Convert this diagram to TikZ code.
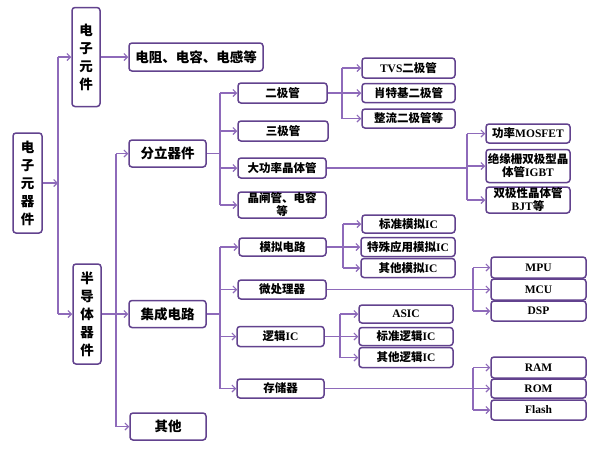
\documentclass[tikz,border=0pt]{standalone}
\usepackage{fontspec}
\setmainfont{Liberation Serif}
\newfontfamily\cjk{Noto Sans CJK SC}
\usetikzlibrary{arrows.meta}
\definecolor{boxc}{RGB}{98,66,142}
\definecolor{linec}{RGB}{142,106,186}
\newcommand\en[1]{{\rmfamily #1}}
\tikzset{
 bx/.style={draw=boxc, line width=1.5pt, rounded corners=3pt, fill=white, inner sep=0pt, align=center, text=black,
   font=\cjk\bfseries\fontsize{11.5}{13}\selectfont},
 big/.style={font=\cjk\bfseries\fontsize{13.5}{18}\selectfont},
 conn/.style={draw=linec, line width=1.1pt},
 arr/.style={draw=linec, line width=1.1pt, -{Straight Barb[length=3.5pt,width=7pt]}},
}
\begin{document}
\begin{tikzpicture}[x=1pt,y=-1pt]
\useasboundingbox[fill=white] (0,0) rectangle (600,448);
% level 0-1
\node[bx,big,minimum width=29pt,minimum height=100pt] (root) at (27.5,183) {电\\子\\元\\器\\件};
\node[bx,big,minimum width=28pt,minimum height=99pt] (ec) at (86,57) {电\\子\\元\\件};
\node[bx,big,minimum width=28pt,minimum height=100pt] (sd) at (87,314) {半\\导\\体\\器\\件};
\node[bx,big,minimum width=134pt,minimum height=28pt] (rlc) at (196,57) {电阻、电容、电感等};
\node[bx,big,minimum width=77pt,minimum height=27pt] (dd) at (167.5,153.5) {分立器件};
\node[bx,big,minimum width=77pt,minimum height=27pt] (ic) at (167.5,314) {集成电路};
\node[bx,big,minimum width=76pt,minimum height=27pt] (qt) at (168,426.5) {其他};
% discrete
\node[bx,minimum width=89pt,minimum height=20pt] (ejg) at (282.5,93) {二极管};
\node[bx,minimum width=90pt,minimum height=20pt] (sjg) at (283,131) {三极管};
\node[bx,minimum width=88pt,minimum height=20pt] (dgl) at (282,168) {大功率晶体管};
\node[bx,minimum width=88pt,minimum height=26pt] (jzg) at (282,205) {晶闸管、电容\\等};
\node[bx,minimum width=93pt,minimum height=20pt] (tvs) at (408.5,68) {\en{TVS}二极管};
\node[bx,minimum width=93pt,minimum height=19pt] (xtj) at (408.5,93) {肖特基二极管};
\node[bx,minimum width=93pt,minimum height=19pt] (zl) at (408.5,118.5) {整流二极管等};
\node[bx,minimum width=84pt,minimum height=19pt] (mos) at (528,133.5) {功率\en{MOSFET}};
\node[bx,minimum width=84pt,minimum height=33pt] (igbt) at (528,166) {绝缘栅双极型晶\\体管\en{IGBT}};
\node[bx,minimum width=84pt,minimum height=26pt] (bjt) at (528,200) {双极性晶体管\\\en{BJT}等};
% IC
\node[bx,minimum width=87pt,minimum height=18pt] (mn) at (282.5,247) {模拟电路};
\node[bx,minimum width=88pt,minimum height=19pt] (wcl) at (282,289.5) {微处理器};
\node[bx,minimum width=87pt,minimum height=20pt] (lj) at (280.5,336.5) {逻辑\en{IC}};
\node[bx,minimum width=87pt,minimum height=19pt] (cc) at (280.5,388.5) {存储器};
\node[bx,minimum width=93pt,minimum height=18pt] (bzmn) at (408.5,224) {标准模拟\en{IC}};
\node[bx,minimum width=94pt,minimum height=19pt] (tsyy) at (408,247) {特殊应用模拟\en{IC}};
\node[bx,minimum width=94pt,minimum height=19pt] (qtmn) at (408,268) {其他模拟\en{IC}};
\node[bx,minimum width=95pt,minimum height=21pt] (mpu) at (538.5,267.5) {\en{MPU}};
\node[bx,minimum width=95pt,minimum height=21pt] (mcu) at (538.5,289.5) {\en{MCU}};
\node[bx,minimum width=95pt,minimum height=20pt] (dsp) at (538.5,311) {\en{DSP}};
\node[bx,minimum width=94pt,minimum height=18pt] (asic) at (406,314) {\en{ASIC}};
\node[bx,minimum width=94pt,minimum height=18pt] (bzlj) at (406,336.5) {标准逻辑\en{IC}};
\node[bx,minimum width=94pt,minimum height=20pt] (qtlj) at (406,357.5) {其他逻辑\en{IC}};
\node[bx,minimum width=95pt,minimum height=21pt] (ram) at (538.5,367.5) {\en{RAM}};
\node[bx,minimum width=95pt,minimum height=19pt] (rom) at (538.5,388.5) {\en{ROM}};
\node[bx,minimum width=95pt,minimum height=20pt] (flash) at (538.5,410) {\en{Flash}};
% trunk coordinates
\coordinate (t1) at (58,0);
\coordinate (t2) at (116,0);
\coordinate (t3) at (220,0);
\coordinate (t4) at (342,0);
\coordinate (t5) at (467,0);
\coordinate (t6) at (343,0);
\coordinate (t7) at (473,0);
\coordinate (t8) at (340,0);
% root
\draw[arr] (root.east) -- (root.east -| t1);
\draw[conn] (ec.west -| t1) -- (sd.west -| t1);
\draw[arr] (ec.west -| t1) -- (ec.west);
\draw[arr] (sd.west -| t1) -- (sd.west);
\draw[arr] (ec.east) -- (rlc.west);
% semiconductor
\draw[conn] (dd.west -| t2) -- (qt.west -| t2);
\draw[arr] (sd.east) -- (ic.west);
\draw[arr] (dd.west -| t2) -- (dd.west);
\draw[arr] (qt.west -| t2) -- (qt.west);
% discrete
\draw[conn] (dd.east) -- (dd.east -| t3);
\draw[conn] (ejg.west -| t3) -- (jzg.west -| t3);
\foreach \n in {ejg,sjg,dgl,jzg} \draw[arr] (\n.west -| t3) -- (\n.west);
\draw[conn] (ejg.east) -- (ejg.east -| t4);
\draw[conn] (tvs.west -| t4) -- (zl.west -| t4);
\foreach \n in {tvs,xtj,zl} \draw[arr] (\n.west -| t4) -- (\n.west);
\draw[conn] (dgl.east) -- (dgl.east -| t5);
\draw[conn] (mos.west -| t5) -- (bjt.west -| t5);
\foreach \n in {mos,igbt,bjt} \draw[arr] (\n.west -| t5) -- (\n.west);
% IC
\draw[conn] (ic.east) -- (ic.east -| t3);
\draw[conn] (mn.west -| t3) -- (cc.west -| t3);
\foreach \n in {mn,wcl,lj,cc} \draw[arr] (\n.west -| t3) -- (\n.west);
\draw[conn] (mn.east) -- (mn.east -| t6);
\draw[conn] (bzmn.west -| t6) -- (qtmn.west -| t6);
\foreach \n in {bzmn,tsyy,qtmn} \draw[arr] (\n.west -| t6) -- (\n.west);
\draw[conn] (wcl.east) -- (wcl.east -| t7);
\draw[conn] (mpu.west -| t7) -- (dsp.west -| t7);
\foreach \n in {mpu,mcu,dsp} \draw[arr] (\n.west -| t7) -- (\n.west);
\draw[conn] (lj.east) -- (lj.east -| t8);
\draw[conn] (asic.west -| t8) -- (qtlj.west -| t8);
\foreach \n in {asic,bzlj,qtlj} \draw[arr] (\n.west -| t8) -- (\n.west);
\draw[conn] (cc.east) -- (cc.east -| t7);
\draw[conn] (ram.west -| t7) -- (flash.west -| t7);
\foreach \n in {ram,rom,flash} \draw[arr] (\n.west -| t7) -- (\n.west);
\end{tikzpicture}
\end{document}
